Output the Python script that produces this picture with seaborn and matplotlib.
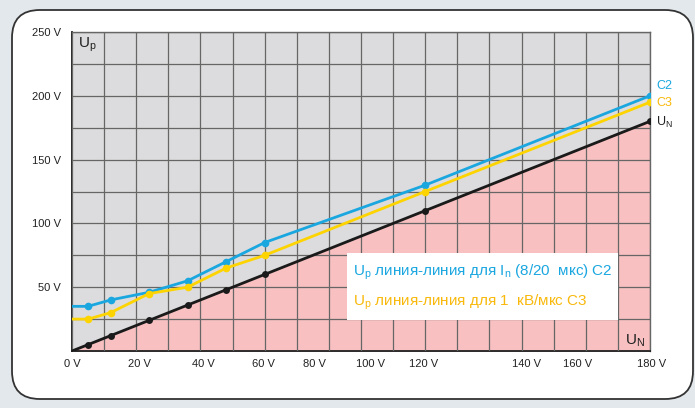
import numpy as np
import pandas as pd
import matplotlib
matplotlib.use("Agg")
import matplotlib.pyplot as plt
import seaborn as sns
from matplotlib.patches import FancyBboxPatch, Rectangle

# ---------------------------------------------------------------------------
# Данные
# ---------------------------------------------------------------------------
un_x = [0, 5, 12, 24, 36, 48, 60, 110, 180]
un_y = [0, 5, 12, 24, 36, 48, 60, 110, 180]
c2_y = [35, 35, 40, 46, 55, 70, 85, 130, 200]
c3_y = [25, 25, 30, 45, 50, 65, 75, 125, 195]

x_tick_pos = [0, 20, 40, 60, 80, 100, 120, 140, 160, 180]
x_label_pos = [0, 21, 41, 59.5, 75.5, 93, 109.5, 141.5, 157.5, 180.5]
x_labels = ["0 V", "20 V", "40 V", "60 V", "80 V", "100 V", "120 V", "140 V", "160 V", "180 V"]
y_ticks = [0, 50, 100, 150, 200, 250]
y_labels = ["", "50 V", "100 V", "150 V", "200 V", "250 V"]

BLUE = "#1aa7e0"
YELLOW = "#fdd400"
YELLOW_TXT = "#f8b90c"
BLACK = "#1a1a1a"
PINK = "#f8c0c1"
GRAY_BG = "#dcdcde"
GRID = "#666666"

df = pd.DataFrame({"U_N": un_x, "UN": un_y, "C2": c2_y, "C3": c3_y})

sns.set_style("white")
plt.rcParams["font.family"] = ["Liberation Sans Narrow", "Liberation Sans", "DejaVu Sans"]
plt.rcParams["mathtext.fontset"] = "custom"
plt.rcParams["mathtext.rm"] = "Liberation Sans Narrow"

fig = plt.figure(figsize=(6.95, 4.08), dpi=100)
fig.patch.set_facecolor("#e2e8ec")

# белая панель со скруглёнными углами
panel = FancyBboxPatch((12 / 695, 9 / 408), 681 / 695, 389 / 408,
                       boxstyle="round,pad=0,rounding_size=0.04",
                       transform=fig.transFigure, facecolor="white",
                       edgecolor="#333333", linewidth=1.3, zorder=-5,
                       mutation_aspect=695 / 408)
fig.patches.append(panel)

ax = fig.add_axes([72 / 695, 57 / 408, 578 / 695, 319 / 408])
ax.set_zorder(2)
ax.set_facecolor(GRAY_BG)

# розовая зона под U_N
ax.fill_between(df["U_N"], 0, df["UN"], color=PINK, zorder=1, linewidth=0)

mk = list(range(1, len(un_x)))
sns.lineplot(data=df, x="U_N", y="C2", ax=ax, color=BLUE, lw=2, marker="o",
             markersize=5.5, markeredgewidth=0, markevery=mk, zorder=4)
sns.lineplot(data=df, x="U_N", y="C3", ax=ax, color=YELLOW, lw=2, marker="o",
             markersize=5.5, markeredgewidth=0, markevery=mk, zorder=4)
sns.lineplot(data=df, x="U_N", y="UN", ax=ax, color=BLACK, lw=2, marker="o",
             markersize=5, markeredgewidth=0, markevery=mk, zorder=4)

ax.set_xlim(0, 180)
ax.set_ylim(0, 250)
ax.set_xlabel("")
ax.set_ylabel("")

# сетка
ax.set_xticks(x_tick_pos)
ax.set_xticklabels([])
ax.set_xticks(np.arange(0, 181, 10), minor=True)
ax.set_yticks(y_ticks)
ax.set_yticklabels(y_labels)
ax.set_yticks(np.arange(0, 251, 25), minor=True)
ax.grid(which="both", color=GRID, lw=0.9, zorder=2)
ax.set_axisbelow(False)
for ln in ax.get_xgridlines() + ax.get_ygridlines():
    ln.set_zorder(2)
ax.tick_params(which="major", length=6, color="#888888", width=1,
               labelsize=8, pad=2, colors="#888888", labelcolor="#222222")
ax.tick_params(which="minor", length=0)

for pos, lab in zip(x_label_pos, x_labels):
    ax.text(pos, -0.026, lab, transform=ax.get_xaxis_transform(),
            ha="center", va="top", fontsize=8, color="#222222")

for side in ["left", "bottom"]:
    ax.spines[side].set_color("#1a1a1a")
    ax.spines[side].set_linewidth(1.3)
for side in ["top", "right"]:
    ax.spines[side].set_color(GRID)
    ax.spines[side].set_linewidth(1)

# легенда-врезка
ax.add_patch(Rectangle((85.5, 24), 84.5, 53, facecolor="white", edgecolor="none", zorder=5))
ax.text(87.5, 62, r"U$_\mathregular{p}$ линия-линия для I$_\mathregular{n}$ (8/20  мкс) C2",
        color=BLUE, fontsize=11, va="center", ha="left", zorder=6)
ax.text(87.5, 38.5, r"U$_\mathregular{p}$ линия-линия для 1  кВ/мкс C3",
        color=YELLOW_TXT, fontsize=11, va="center", ha="left", zorder=6)

# подписи осей
ax.text(2, 240, r"U$_\mathregular{p}$", fontsize=11, color="#222222", va="center", zorder=6)
ax.text(178.5, 8, r"U$_\mathregular{N}$", fontsize=11, color="#222222", va="center",
        ha="right", zorder=6)

# подписи кривых справа
ax.text(182, 208, "C2", color=BLUE, fontsize=9, va="center", clip_on=False)
ax.text(182, 194, "C3", color=YELLOW_TXT, fontsize=9, va="center", clip_on=False)
ax.text(182, 179, r"U$_\mathregular{N}$", color="#222222", fontsize=9, va="center", clip_on=False)

fig.savefig("out.png", dpi=100)
